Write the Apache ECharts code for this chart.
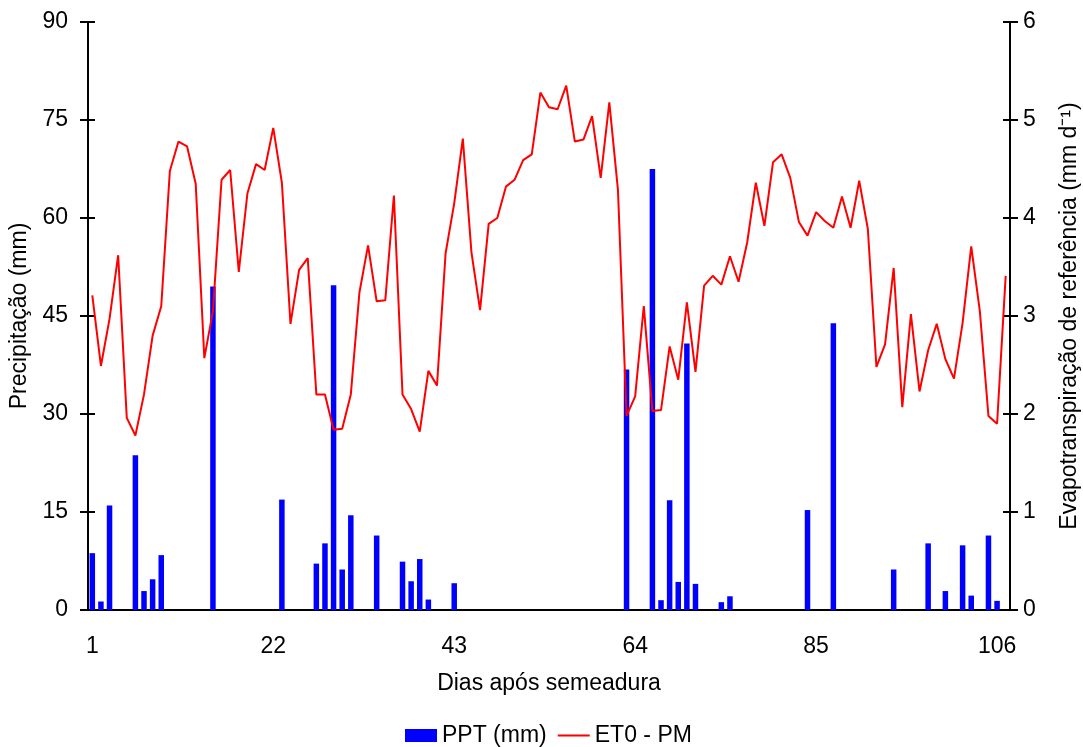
<!DOCTYPE html>
<html>
<head>
<meta charset="utf-8">
<script src="https://cdn.jsdelivr.net/npm/echarts@6/dist/echarts.min.js"></script>
<style>html,body{margin:0;padding:0;background:#fff}#c{width:1083px;height:747px}</style>
</head>
<body>
<div id="c"></div>
<script>
// Days after sowing (107 daily categories; labels every 21 days)
var days = [];
for (var d = 1; d <= 107; d++) days.push(String(d));

// Rain events: day -> precipitation (mm)
var rainDays = [1, 2, 3, 6, 7, 8, 9, 15, 23, 27, 28, 29, 30, 31, 34, 37, 38, 39, 40, 43,
  63, 66, 67, 68, 69, 70, 71, 74, 75, 84, 87, 94, 98, 100, 102, 103, 105, 106];
var rainMm = [8.7, 1.3, 16.0, 23.7, 2.9, 4.7, 8.4, 49.5, 16.9, 7.1, 10.2, 49.7, 6.2, 14.5, 11.4, 7.4, 4.4, 7.8, 1.6, 4.1,
  36.8, 67.5, 1.5, 16.8, 4.3, 40.8, 4.0, 1.2, 2.1, 15.3, 43.9, 6.2, 10.2, 2.9, 9.9, 2.2, 11.4, 1.4];

// Reference evapotranspiration ET0 - PM (mm/day), days 1..107
var et0 = [3.21, 2.49, 2.97, 3.62, 1.96, 1.78, 2.20, 2.80, 3.10, 4.48,
  4.78, 4.73, 4.35, 2.57, 3.05, 4.39, 4.49, 3.45, 4.25, 4.55,
  4.49, 4.92, 4.36, 2.92, 3.47, 3.59, 2.20, 2.20, 1.84, 1.85,
  2.20, 3.24, 3.72, 3.15, 3.16, 4.23, 2.20, 2.05, 1.82, 2.44,
  2.29, 3.64, 4.15, 4.81, 3.65, 3.06, 3.94, 4.00, 4.32, 4.39,
  4.59, 4.65, 5.28, 5.13, 5.11, 5.35, 4.78, 4.80, 5.04, 4.41,
  5.18, 4.29, 1.98, 2.18, 3.10, 2.03, 2.04, 2.69, 2.35, 3.14,
  2.43, 3.31, 3.41, 3.32, 3.61, 3.35, 3.75, 4.36, 3.92, 4.57,
  4.65, 4.41, 3.96, 3.82, 4.06, 3.97, 3.90, 4.22, 3.90, 4.38,
  3.89, 2.48, 2.71, 3.49, 2.07, 3.02, 2.23, 2.65, 2.92, 2.56,
  2.36, 2.93, 3.71, 3.05, 1.98, 1.90, 3.41];

var ppt = days.map(function (d) {
  var i = rainDays.indexOf(Number(d));
  return i >= 0 ? rainMm[i] : 0;
});

var FONT = '"Liberation Sans", Arial, sans-serif';
var FS = 23;

var chart = echarts.init(document.getElementById('c'), null, {renderer: 'canvas'});
chart.setOption({
  animation: false,
  backgroundColor: '#ffffff',
  textStyle: {fontFamily: FONT, color: '#000'},
  grid: {left: 88, right: 73, top: 22, bottom: 137, containLabel: false, outerBoundsMode: 'none'},
  legend: {
    left: 405, top: 724, padding: 0,
    itemWidth: 32, itemHeight: 13, itemGap: 10,
    textStyle: {fontFamily: FONT, fontSize: FS, color: '#000'},
    data: [
      {name: 'PPT (mm)', icon: 'rect'},
      {name: 'ET0 - PM', itemStyle: {opacity: 0}, lineStyle: {color: '#ff0000', width: 2}}
    ]
  },
  xAxis: {
    type: 'category', data: days, boundaryGap: true,
    name: 'Dias após semeadura', nameLocation: 'middle', nameGap: 62,
    nameTextStyle: {fontFamily: FONT, fontSize: FS, color: '#000'},
    axisLine: {lineStyle: {color: '#000', width: 2}},
    axisTick: {interval: 0, length: 8, lineStyle: {color: '#000', width: 1.5}},
    axisLabel: {interval: 20, margin: 25, fontFamily: FONT, fontSize: FS, color: '#000'},
    splitLine: {show: false}
  },
  yAxis: [{
    type: 'value', position: 'left', min: 0, max: 90, interval: 15,
    name: 'Precipitação (mm)', nameLocation: 'middle', nameGap: 54, nameRotate: 90,
    nameTextStyle: {fontFamily: FONT, fontSize: FS, color: '#000'},
    axisLine: {show: true, lineStyle: {color: '#000', width: 2}},
    axisTick: {show: true, length: 8, lineStyle: {color: '#000', width: 2}},
    axisLabel: {margin: 20, fontFamily: FONT, fontSize: FS, color: '#000'},
    splitLine: {show: false}
  }, {
    type: 'value', position: 'right', min: 0, max: 6, interval: 1,
    name: 'Evapotranspiração de referência (mm d⁻¹)', nameLocation: 'middle', nameGap: 48, nameRotate: 90,
    nameTextStyle: {fontFamily: FONT, fontSize: FS, color: '#000'},
    axisLine: {show: true, lineStyle: {color: '#000', width: 2}},
    axisTick: {show: true, length: 8, lineStyle: {color: '#000', width: 2}},
    axisLabel: {margin: 13, fontFamily: FONT, fontSize: FS, color: '#000'},
    splitLine: {show: false}
  }, {
    type: 'value', position: 'left', min: 0, max: 90, interval: 15,
    axisLine: {show: false}, axisLabel: {show: false}, splitLine: {show: false},
    axisTick: {show: true, inside: true, length: 7, lineStyle: {color: '#000', width: 2}}
  }, {
    type: 'value', position: 'right', min: 0, max: 6, interval: 1,
    axisLine: {show: false}, axisLabel: {show: false}, splitLine: {show: false},
    axisTick: {show: true, inside: true, length: 7, lineStyle: {color: '#000', width: 2}}
  }],
  series: [{
    name: 'PPT (mm)', type: 'bar', yAxisIndex: 0, data: ppt,
    barWidth: 5.5, itemStyle: {color: '#0000ff'}
  }, {
    name: 'ET0 - PM', type: 'line', yAxisIndex: 1, data: et0,
    symbol: 'none', showSymbol: false,
    lineStyle: {color: '#ff0000', width: 2}, itemStyle: {color: '#ff0000'}
  }]
});
</script>
</body>
</html>
